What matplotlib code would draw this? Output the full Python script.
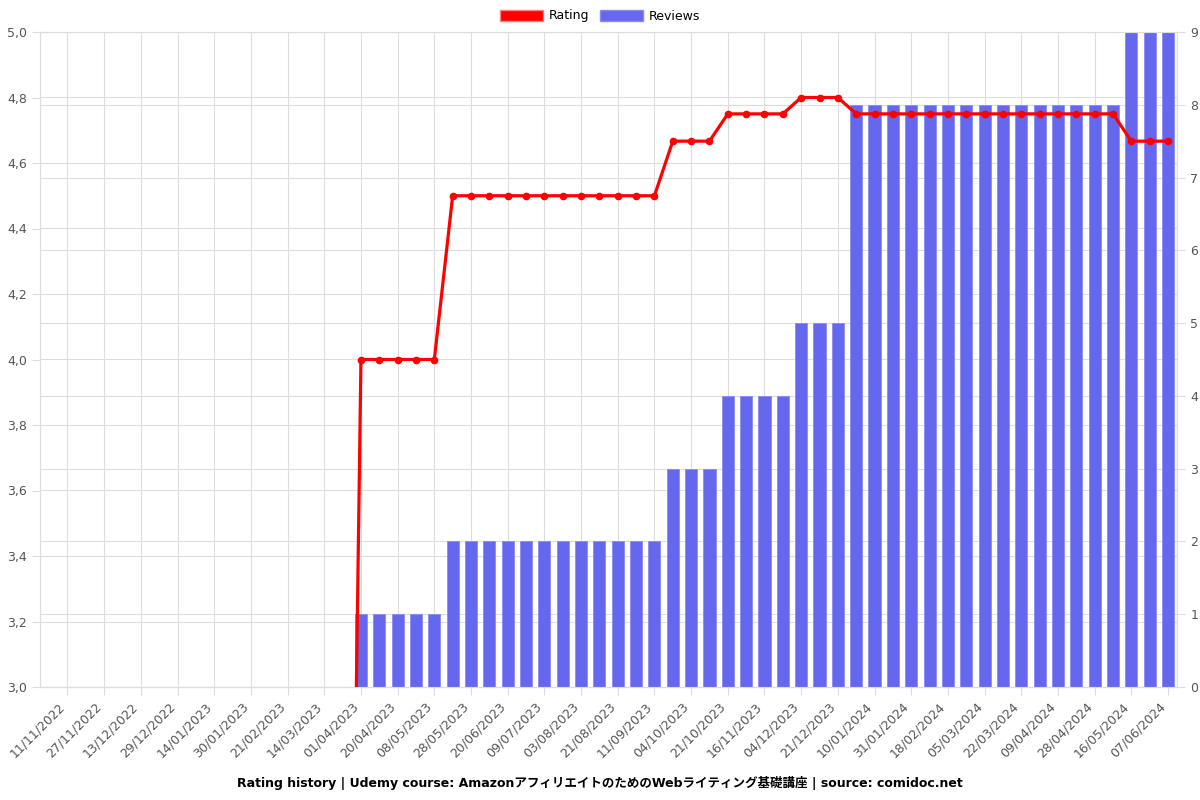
import numpy as np
import matplotlib
matplotlib.use('Agg')
import matplotlib.pyplot as plt
from matplotlib.patches import Patch
from matplotlib.ticker import FuncFormatter, FixedLocator

# visible date labels (every second point)
tick_labels = ['11/11/2022', '27/11/2022', '13/12/2022', '29/12/2022', '14/01/2023',
               '30/01/2023', '21/02/2023', '14/03/2023', '01/04/2023', '20/04/2023',
               '08/05/2023', '28/05/2023', '20/06/2023', '09/07/2023', '03/08/2023',
               '21/08/2023', '11/09/2023', '04/10/2023', '21/10/2023', '16/11/2023',
               '04/12/2023', '21/12/2023', '10/01/2024', '31/01/2024', '18/02/2024',
               '05/03/2024', '22/03/2024', '09/04/2024', '28/04/2024', '16/05/2024',
               '07/06/2024']

rating = ([0.0] * 16 + [4.0] * 5 + [4.5] * 12 + [4.6667] * 3 + [4.75] * 4
          + [4.8] * 3 + [4.75] * 15 + [4.6667] * 3)
reviews = ([0] * 16 + [1] * 5 + [2] * 12 + [3] * 3 + [4] * 4
           + [5] * 3 + [8] * 15 + [9] * 3)

title = 'Rating history | Udemy course: AmazonアフィリエイトのためのWebライティング基礎講座 | source: comidoc.net'

x = np.arange(len(rating))
red = '#ff0000'
blue = '#6567ef'
grid_c = '#dddddd'
txt_c = '#555555'

fig = plt.figure(figsize=(12, 8), dpi=100)
# base axes: bars on the right scale, all grid lines live here (behind the bars)
ax = fig.add_axes([0.0333, 0.14125, 0.9477, 0.81875])
ax2 = ax.twinx()
ax.yaxis.tick_right()
ax.yaxis.set_label_position('right')
ax2.yaxis.tick_left()
ax2.yaxis.set_label_position('left')

ax.bar(x, reviews, width=0.66, color=blue, edgecolor='#8a8cf3', linewidth=0.6, zorder=2)
ax2.plot(x, rating, color=red, lw=2.3, marker='o', markersize=4.5, zorder=5)

ax.set_xlim(-1.5, len(x) - 0.5)
ax.set_ylim(0, 9)
ax2.set_ylim(3.0, 5.0)

rating_ticks = np.arange(3.0, 5.01, 0.2)
ax2.set_yticks(rating_ticks)
ax2.yaxis.set_major_formatter(FuncFormatter(lambda v, p: f'{v:.1f}'.replace('.', ',')))
ax.set_yticks(range(0, 10))
# rating grid lines drawn on the base axes as minor ticks
ax.yaxis.set_minor_locator(FixedLocator((rating_ticks - 3.0) / 2.0 * 9))
ax.tick_params(axis='y', which='minor', length=0)

ax.set_xticks(x[::2])
ax.set_xticklabels(tick_labels, rotation=45, ha='right')

ax.grid(True, which='major', color=grid_c, lw=0.8)
ax.grid(True, which='minor', axis='y', color=grid_c, lw=0.8)
ax.set_axisbelow(True)

for a in (ax, ax2):
    for s in a.spines.values():
        s.set_color(grid_c)
    a.tick_params(which='major', colors=grid_c, labelcolor=txt_c, labelsize=9, length=6)
ax.spines['bottom'].set_color('#bbbbbb')

handles = [Patch(facecolor=red, edgecolor='#ff8080', label='Rating'),
           Patch(facecolor=blue, edgecolor='#8a8cf3', label='Reviews')]
fig.legend(handles=handles, loc='center', bbox_to_anchor=(0.5, 0.98), ncol=2,
           frameon=False, fontsize=9, handlelength=3.4, handleheight=1.0,
           columnspacing=0.9, handletextpad=0.45)

fig.text(0.5, 0.021, title, ha='center', va='center', fontsize=9, weight='bold',
         family=['DejaVu Sans', 'Noto Sans CJK JP'])

fig.savefig('out.png', dpi=100)
